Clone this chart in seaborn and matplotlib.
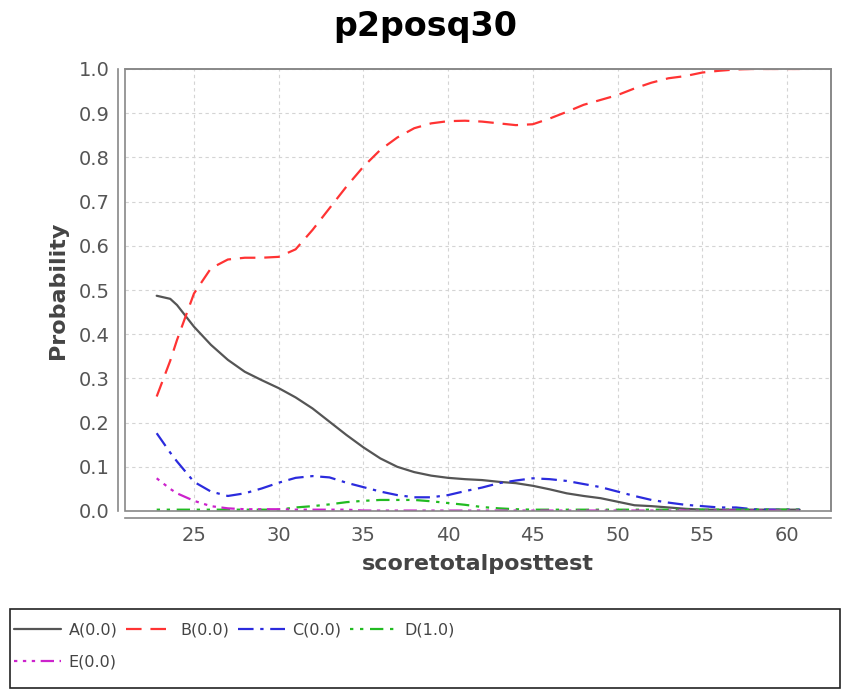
import numpy as np
import pandas as pd
import seaborn as sns
import matplotlib.pyplot as plt
from matplotlib.patches import Rectangle

# probability curves
score = [22.8, 23.6, 24, 25, 26, 27, 28, 29, 30, 31, 32, 33, 34, 35, 36, 37, 38, 39, 40, 41,
         42, 43, 44, 45, 46, 47, 48, 49, 50, 51, 52, 53, 54, 55, 56, 57, 58, 59, 60, 60.75]
prob_a = [0.487, 0.480, 0.466, 0.417, 0.376, 0.342, 0.315, 0.296, 0.278, 0.257, 0.232, 0.202,
          0.172, 0.144, 0.119, 0.100, 0.088, 0.080, 0.075, 0.072, 0.070, 0.066, 0.063, 0.057,
          0.049, 0.040, 0.034, 0.029, 0.021, 0.013, 0.011, 0.008, 0.005, 0.003, 0.003, 0.003,
          0.003, 0.003, 0.003, 0.003]
prob_b = [0.259, 0.34, 0.387, 0.492, 0.549, 0.569, 0.573, 0.573, 0.575, 0.592, 0.636, 0.685,
          0.734, 0.779, 0.817, 0.845, 0.866, 0.877, 0.882, 0.883, 0.881, 0.877, 0.873, 0.875,
          0.888, 0.903, 0.919, 0.930, 0.941, 0.956, 0.969, 0.979, 0.984, 0.992, 0.996, 0.999,
          1.0, 1.0, 1.0, 1.0]
prob_c = [0.176, 0.132, 0.112, 0.066, 0.044, 0.034, 0.040, 0.051, 0.064, 0.075, 0.079, 0.076,
          0.064, 0.054, 0.044, 0.036, 0.031, 0.031, 0.036, 0.045, 0.053, 0.063, 0.069, 0.074,
          0.072, 0.068, 0.061, 0.054, 0.044, 0.034, 0.025, 0.019, 0.014, 0.011, 0.008, 0.008,
          0.004, 0.003, 0.003, 0.003]
prob_d = [0.003, 0.003, 0.003, 0.003, 0.003, 0.003, 0.003, 0.003, 0.003, 0.008, 0.011, 0.015,
          0.020, 0.023, 0.025, 0.025, 0.025, 0.022, 0.018, 0.014, 0.009, 0.006, 0.004, 0.003,
          0.003, 0.003, 0.003, 0.003, 0.003, 0.003, 0.003, 0.003, 0.003, 0.003, 0.003, 0.003,
          0.003, 0.003, 0.003, 0.003]
prob_e = [0.074, 0.050, 0.040, 0.023, 0.011, 0.006, 0.004, 0.004, 0.004, 0.003, 0.003, 0.003,
          0.003, 0.001, 0.001, 0.001, 0.001, 0.001, 0.001, 0.001, 0.001, 0.001, 0.001, 0.001,
          0.001, 0.001, 0.001, 0.001, 0.001, 0.001, 0.001, 0.001, 0.001, 0.001, 0.001, 0.001,
          0.001, 0.001, 0.001, 0.001]
labels = ['A(0.0)', 'B(0.0)', 'C(0.0)', 'D(1.0)', 'E(0.0)']

sns.set_style('white')
plt.rcParams['font.family'] = ['DejaVu Sans']

df = pd.DataFrame({'score': score, 'A(0.0)': prob_a, 'B(0.0)': prob_b,
                   'C(0.0)': prob_c, 'D(1.0)': prob_d, 'E(0.0)': prob_e})
long = df.melt(id_vars='score', var_name='answer', value_name='prob')

colors = {'A(0.0)': '#555555', 'B(0.0)': '#ff3333', 'C(0.0)': '#2b2bdd',
          'D(1.0)': '#22bb22', 'E(0.0)': '#cc22cc'}
dashes = {'A(0.0)': '', 'B(0.0)': (7, 4), 'C(0.0)': (7, 3, 1.5, 3),
          'D(1.0)': (1.5, 3, 1.5, 3, 6, 3), 'E(0.0)': (1.5, 2.5, 1.5, 2.5, 1.5, 2.5, 6, 2.5)}

fig = plt.figure(figsize=(8.51, 6.91), dpi=100)
ax = fig.add_axes([125 / 851, 1 - 511 / 691, 706 / 851, 442 / 691])

for lab in labels:
    sns.lineplot(data=long[long.answer == lab], x='score', y='prob', color=colors[lab],
                 dashes=False, linewidth=1.6, label=lab, ax=ax, legend=False)
    ln = ax.get_lines()[-1]
    if dashes[lab]:
        ln.set_dashes(dashes[lab])

ax.set_xlim(20.93, 62.6)
ax.set_ylim(0, 1.0)
ax.set_xticks(range(25, 61, 5))
ax.set_yticks(np.round(np.arange(0, 1.01, 0.1), 1))
ax.set_yticklabels([f'{v:.1f}' for v in np.arange(0, 1.01, 0.1)])
ax.grid(True, color='#d4d4d4', linestyle=(0, (3, 3)), linewidth=0.8)

gray = '#888888'
for side in ['top', 'right']:
    ax.spines[side].set_color(gray)
    ax.spines[side].set_linewidth(1.2)
for side in ['left', 'bottom']:
    ax.spines[side].set_position(('outward', 5))
    ax.spines[side].set_color(gray)
    ax.spines[side].set_linewidth(1.2)
ax.add_patch(Rectangle((0, 0), 1, 1, transform=ax.transAxes, fill=False,
                       edgecolor=gray, linewidth=1.2, clip_on=False, zorder=5))
ax.tick_params(axis='both', direction='out', length=3, width=1, color=gray,
               labelsize=14, labelcolor='#555555', pad=3)

ax.set_xlabel('scoretotalposttest', fontsize=16, fontweight='bold', color='#444444', labelpad=6)
ax.set_ylabel('Probability', fontsize=16, fontweight='bold', color='#444444', labelpad=8)
fig.suptitle('p2posq30', fontsize=24, fontweight='bold', color='black', x=0.5, y=0.985)

# legend in a full-width box below the plot
fig.add_artist(Rectangle((10 / 851, 3 / 691), 830 / 851, 79 / 691, transform=fig.transFigure,
                         fill=False, edgecolor='#222222', linewidth=1.2))
h, l = ax.get_legend_handles_labels()
order = [0, 4, 1, 2, 3]
fig.legend([h[i] for i in order], [l[i] for i in order], loc='upper left',
           bbox_to_anchor=(0.0, 1 - 608 / 691), ncol=4, frameon=False,
           fontsize=11.5, handlelength=2.9, handletextpad=0.5, columnspacing=0.55,
           labelspacing=1.05, labelcolor='#444444')

fig.savefig('out.png', dpi=100)
